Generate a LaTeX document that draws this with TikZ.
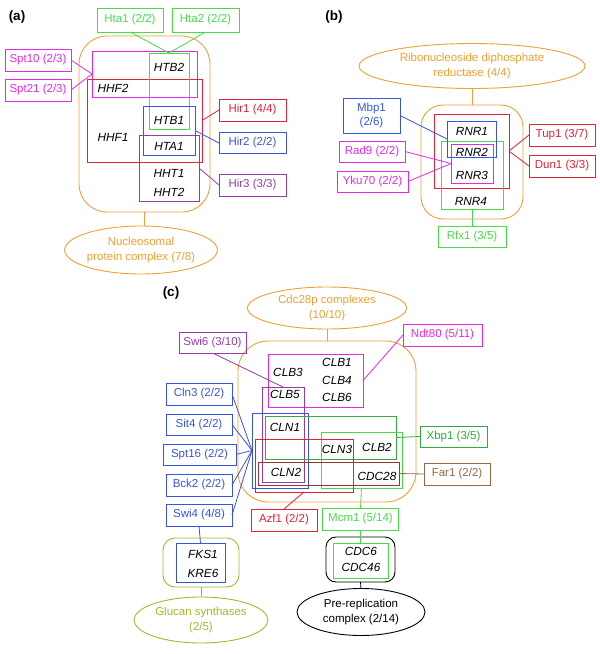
\documentclass[tikz,border=0pt]{standalone}
\usepackage{fontspec}
\setmainfont{Liberation Sans}
\usetikzlibrary{shapes.geometric}
\definecolor{cO}{RGB}{238,160,50}
\definecolor{cG}{RGB}{70,220,70}
\definecolor{cDG}{RGB}{50,170,60}
\definecolor{cM}{RGB}{230,40,230}
\definecolor{cR}{RGB}{220,35,55}
\definecolor{cB}{RGB}{55,85,220}
\definecolor{cP}{RGB}{150,60,170}
\definecolor{cBr}{RGB}{150,105,70}
\definecolor{cDR}{RGB}{150,50,50}
\definecolor{cOl}{RGB}{170,180,40}
\tikzset{
  lbl/.style={font=\fontsize{11.5}{13.5}\selectfont, inner sep=0pt, outer sep=0pt, draw, line width=0.9pt, align=center},
  grp/.style={draw, inner sep=0pt, outer sep=0pt, line width=0.9pt},
  gene/.style={font=\fontsize{11.8}{14}\selectfont\itshape, inner sep=0pt},
  ell/.style={ellipse, draw, line width=0.9pt, inner sep=0pt, outer sep=0pt, align=center, font=\fontsize{11.5}{14.5}\selectfont},
  conn/.style={line width=0.8pt},
  panel/.style={font=\fontsize{13.5}{15}\selectfont\bfseries, inner sep=0pt},
}
\begin{document}
\begin{tikzpicture}[x=1pt,y=-1pt]
\useasboundingbox (0,0) rectangle (600,654);
% ---------------- panel (a)
\node[panel] (pa) at (17,17) {(a)};
\node[grp, draw=cO, rounded corners=28pt, minimum width=131, minimum height=176] (orA) at (144.5,124) {};
\node[grp, draw=cM, minimum width=105, minimum height=46] (magA) at (144.5,74) {};
\node[grp, draw=cR, minimum width=115, minimum height=83] (redA) at (144.5,120.5) {};
\node[grp, draw=cG, minimum width=40, minimum height=76] (grnA) at (169,91) {};
\node[grp, draw=cB, minimum width=52, minimum height=49] (bluA) at (169,130.5) {};
\node[grp, draw=cP, minimum width=60, minimum height=66] (purA) at (169,168) {};
\node[gene] (g1) at (169,67) {HTB2};
\node[gene] (g2) at (113,88) {HHF2};
\node[gene] (g3) at (169,120) {HTB1};
\node[gene] (g4) at (113,137) {HHF1};
\node[gene] (g5) at (169,146) {HTA1};
\node[gene] (g6) at (169,173) {HHT1};
\node[gene] (g7) at (169,192) {HHT2};
\node[lbl, draw=cG, text=cG, minimum width=66, minimum height=24] (hta1) at (130,20) {Hta1 (2/2)};
\node[lbl, draw=cG, text=cG, minimum width=67, minimum height=24] (hta2) at (205.5,20) {Hta2 (2/2)};
\node[lbl, draw=cM, text=cM, minimum width=66, minimum height=22] (spt10) at (38,60) {Spt10 (2/3)};
\node[lbl, draw=cM, text=cM, minimum width=66, minimum height=22] (spt21) at (38,90) {Spt21 (2/3)};
\node[lbl, draw=cR, text=cR, minimum width=67, minimum height=22] (hir1) at (252.5,110) {Hir1 (4/4)};
\node[lbl, draw=cB, text=cB, minimum width=67, minimum height=21] (hir2) at (252.5,143) {Hir2 (2/2)};
\node[lbl, draw=cP, text=cP, minimum width=67, minimum height=22] (hir3) at (252.5,185) {Hir3 (3/3)};
\node[ell, draw=cO, text=cO, minimum width=146, minimum height=48] (ellA) at (141,250) {Nucleosomal\\protein complex (7/8)};
\draw[conn, cG] (hta1.south) -- (grnA.north);
\draw[conn, cG] (hta2.south) -- (grnA.north);
\draw[conn, cM] (spt10.east) -- (magA.west);
\draw[conn, cM] (spt21.east) -- (magA.west);
\draw[conn, cR] (redA.east) -- (hir1.west);
\draw[conn, cB] (bluA.east) -- (hir2.west);
\draw[conn, cP] (purA.east) -- (hir3.west);
\draw[conn, cO] (orA.south) -- (orA.south |- ellA.north);
% ---------------- panel (b)
\node[panel] (pb) at (334,17) {(b)};
\node[ell, draw=cO, text=cO, minimum width=226, minimum height=45] (ellB) at (472,66) {Ribonucleoside diphosphate\\reductase (4/4)};
\node[grp, draw=cO, rounded corners=22pt, minimum width=102, minimum height=114] (orB) at (472,162) {};
\node[grp, draw=cR, minimum width=75, minimum height=74] (redB) at (471.5,151) {};
\node[grp, draw=cG, minimum width=62, minimum height=68] (grnB) at (472,175) {};
\node[grp, draw=cB, minimum width=49, minimum height=36] (bluB) at (471.5,139) {};
\node[grp, draw=cM, minimum width=42, minimum height=39] (magB) at (472,163.5) {};
\node[gene] (r1) at (472,131) {RNR1};
\node[gene] (r2) at (472,152) {RNR2};
\node[gene] (r3) at (472,175) {RNR3};
\node[gene] (r4) at (471,201) {RNR4};
\node[lbl, draw=cB, text=cB, minimum width=57, minimum height=35] (mbp1) at (371.5,115.5) {Mbp1\\(2/6)};
\node[lbl, draw=cM, text=cM, minimum width=66, minimum height=21] (rad9) at (372,151.5) {Rad9 (2/2)};
\node[lbl, draw=cM, text=cM, minimum width=71, minimum height=21] (yku70) at (372.5,181.5) {Yku70 (2/2)};
\node[lbl, draw=cR, text=cR, minimum width=66, minimum height=22] (tup1) at (562,135) {Tup1 (3/7)};
\node[lbl, draw=cR, text=cR, minimum width=66, minimum height=22] (dun1) at (562,166) {Dun1 (3/3)};
\node[lbl, draw=cG, text=cG, minimum width=68, minimum height=21] (rfx1) at (472,236.5) {Rfx1 (3/5)};
\draw[conn, cO] (ellB.south) -- (orB.north);
\draw[conn, cB] (mbp1.east) -- (bluB.west);
\draw[conn, cM] (rad9.east) -- (magB.west);
\draw[conn, cM] (yku70.east) -- (magB.west);
\draw[conn, cR] (redB.east) -- (tup1.west);
\draw[conn, cR] (redB.east) -- (dun1.west);
\draw[conn, cG] (grnB.south) -- (rfx1.north);
% ---------------- panel (c)
\node[panel] (pc) at (171,293) {(c)};
\node[ell, draw=cO, text=cO, minimum width=159, minimum height=42] (ellC) at (327,308) {Cdc28p complexes\\(10/10)};
\node[grp, draw=cO, rounded corners=30pt, minimum width=178, minimum height=161] (orC) at (327,421.5) {};
\node[grp, draw=cM, minimum width=95, minimum height=53] (magC) at (315.5,380.5) {};
\node[grp, draw=cP, minimum width=42, minimum height=95] (purC) at (283,434.5) {};
\node[grp, draw=cB, minimum width=56, minimum height=75] (bluC) at (280,450.5) {};
\node[grp, draw=cDG, minimum width=131, minimum height=43] (dgrC) at (330.5,437.5) {};
\node[grp, draw=cG, minimum width=81, minimum height=56] (lgrC) at (361.5,460) {};
\node[grp, draw=cR, minimum width=98, minimum height=53] (redC) at (304,465.5) {};
\node[grp, draw=cDR, minimum width=141, minimum height=23] (drdC) at (328.5,473.5) {};
\node[gene] (c1) at (337,362) {CLB1};
\node[gene] (c2) at (288,372) {CLB3};
\node[gene] (c3) at (337,380) {CLB4};
\node[gene] (c4) at (285,394) {CLB5};
\node[gene] (c5) at (337,397) {CLB6};
\node[gene] (c6) at (285,427) {CLN1};
\node[gene] (c7) at (337,449) {CLN3};
\node[gene] (c8) at (377,447) {CLB2};
\node[gene] (c9) at (286,472) {CLN2};
\node[gene] (c10) at (377,476) {CDC28};
\node[lbl, draw=cP, text=cP, minimum width=67, minimum height=21] (swi6) at (212.5,342.5) {Swi6 (3/10)};
\node[lbl, draw=cM, text=cM, minimum width=79, minimum height=22] (ndt80) at (442.5,335) {Ndt80 (5/11)};
\node[lbl, draw=cB, text=cB, minimum width=66, minimum height=22] (cln3) at (199,394) {Cln3 (2/2)};
\node[lbl, draw=cB, text=cB, minimum width=66, minimum height=21] (sit4) at (199,424.5) {Sit4 (2/2)};
\node[lbl, draw=cB, text=cB, minimum width=73, minimum height=21] (spt16) at (199.5,454.5) {Spt16 (2/2)};
\node[lbl, draw=cB, text=cB, minimum width=66, minimum height=22] (bck2) at (199,485) {Bck2 (2/2)};
\node[lbl, draw=cB, text=cB, minimum width=66, minimum height=22] (swi4) at (199,515) {Swi4 (4/8)};
\node[lbl, draw=cDG, text=cDG, minimum width=67, minimum height=21] (xbp1) at (453.5,436.5) {Xbp1 (3/5)};
\node[lbl, draw=cBr, text=cBr, minimum width=66, minimum height=22] (far1) at (457,474) {Far1 (2/2)};
\node[lbl, draw=cR, text=cR, minimum width=66, minimum height=22] (azf1) at (284,520) {Azf1 (2/2)};
\node[lbl, draw=cG, text=cG, minimum width=76, minimum height=22] (mcm1) at (360.5,519) {Mcm1 (5/14)};
\node[grp, draw=cOl, rounded corners=12pt, minimum width=76, minimum height=49] (olC) at (201,562.5) {};
\node[grp, draw=cB, minimum width=49, minimum height=39] (fksC) at (200.5,562.5) {};
\node[gene] (f1) at (203,554) {FKS1};
\node[gene] (f2) at (203,573) {KRE6};
\node[ell, draw=cOl, text=cOl, minimum width=134, minimum height=46] (ellG) at (201,620) {Glucan synthases\\(2/5)};
\node[grp, draw=black, rounded corners=10pt, minimum width=69, minimum height=45] (blkC) at (360.5,559.5) {};
\node[grp, draw=cG, minimum width=55, minimum height=35] (grnC) at (360.5,560.5) {};
\node[gene] (d1) at (361,551) {CDC6};
\node[gene] (d2) at (361,567) {CDC46};
\node[ell, draw=black, text=black, minimum width=128, minimum height=47] (ellP) at (361,612) {Pre-replication\\complex (2/14)};
\draw[conn, cO] (ellC.south) -- (orC.north);
\draw[conn, cP] (swi6.south) -- (purC.north);
\draw[conn, cM] (ndt80.west) -- (magC.east);
\draw[conn, cB] (cln3.east) -- (bluC.west);
\draw[conn, cB] (sit4.east) -- (bluC.west);
\draw[conn, cB] (spt16.east) -- (bluC.west);
\draw[conn, cB] (bck2.east) -- (bluC.west);
\draw[conn, cB] (swi4.east) -- (bluC.west);
\draw[conn, cDG] (dgrC.east) -- (xbp1.west);
\draw[conn, cBr] (drdC.east) -- (far1.west);
\draw[conn, cR] (redC.south) -- (azf1.north);
\draw[conn, cG] (lgrC.south) -- (mcm1.north);
\draw[conn, cG] (mcm1.south) -- (grnC.north);
\draw[conn, cB] (swi4.south) -- (fksC.north);
\draw[conn, cOl] (olC.south) -- (ellG.north);
\draw[conn, black] (blkC.south) -- (ellP.north);
\end{tikzpicture}
\end{document}
